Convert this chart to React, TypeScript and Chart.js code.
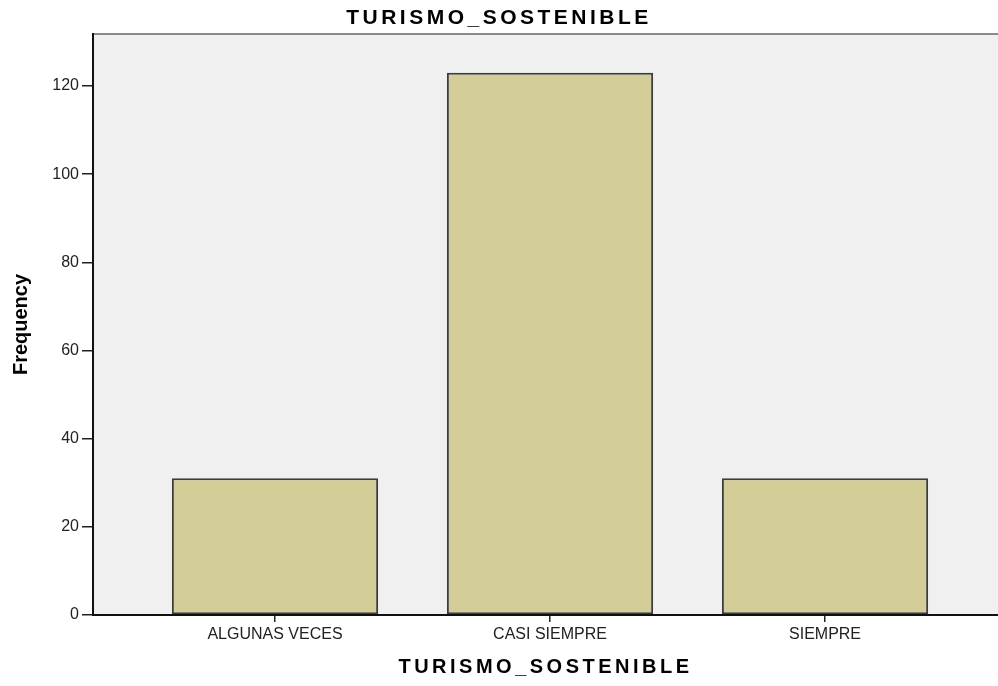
import React, { useEffect, useRef } from 'react';
import { Chart, registerables } from 'chart.js';

Chart.register(...registerables);

const categories: string[] = ['ALGUNAS VECES', 'CASI SIEMPRE', 'SIEMPRE'];
const frequencies: number[] = [31, 123, 31];
const yTickValues: number[] = [0, 20, 40, 60, 80, 100, 120];
const chartTitle = 'TURISMO_SOSTENIBLE';
const xAxisTitle = 'TURISMO_SOSTENIBLE';
const yAxisTitle = 'Frequency';

const FONT = 'Liberation Sans, Arial, sans-serif';

const framePlugin = {
  id: 'spssFrame',
  beforeDraw(chart: any) {
    const { ctx, chartArea: a } = chart;
    ctx.save();
    ctx.fillStyle = '#f0f0f0';
    ctx.fillRect(a.left, a.top, a.right - a.left, a.bottom - a.top);
    ctx.strokeStyle = '#8a8a8a';
    ctx.lineWidth = 2;
    ctx.beginPath();
    ctx.moveTo(a.left, a.top);
    ctx.lineTo(a.right, a.top);
    ctx.stroke();
    ctx.restore();
    // wide bold titles (main + x title) drawn in the layers before datasets
    ctx.letterSpacing = '3.5px';
  },
  beforeDatasetsDraw(chart: any) {
    chart.ctx.letterSpacing = '0px';
  },
  afterDraw(chart: any) {
    chart.ctx.letterSpacing = '0px';
  },
};

export default function App() {
  const canvasRef = useRef<HTMLCanvasElement | null>(null);

  useEffect(() => {
    const canvas = canvasRef.current;
    if (!canvas) return;
    const chart = new Chart(canvas, {
      type: 'bar',
      data: {
        datasets: [
          {
            data: categories.map((_, i) => ({ x: i, y: frequencies[i] })) as any,
            backgroundColor: '#d3ce98',
            borderColor: '#3c3c3c',
            borderWidth: 2,
            borderSkipped: false,
            barPercentage: 0.75,
            categoryPercentage: 1,
          },
        ],
      },
      options: {
        responsive: false,
        animation: false,
        layout: { padding: 0 },
        plugins: {
          legend: { display: false },
          tooltip: { enabled: false },
          title: {
            display: true,
            text: chartTitle,
            color: '#000',
            font: { family: FONT, size: 21, weight: 'bold' },
            padding: { top: 6, bottom: 2.8 },
          },
        },
        scales: {
          x: {
            type: 'linear',
            offset: false,
            min: -0.6618,
            max: 2.629,
            afterBuildTicks: (s: any) => {
              s.ticks = categories.map((_, i) => ({ value: i }));
            },
            afterFit: (s: any) => {
              s.height = 71;
            },
            ticks: {
              callback: (v: any) => categories[v as number] ?? '',
              color: '#222',
              font: { family: FONT, size: 16 },
              padding: 3,
              maxRotation: 0,
              autoSkip: false,
              z: 1,
            },
            grid: {
              offset: false,
              drawOnChartArea: false,
              drawTicks: true,
              tickLength: 7,
              color: '#222',
              lineWidth: 1.5,
            },
            border: { display: true, color: '#111', width: 2 },
            title: {
              display: true,
              text: xAxisTitle,
              color: '#000',
              font: { family: FONT, size: 20, weight: 'bold' },
              padding: { top: 0, bottom: 6.4 },
            },
          },
          y: {
            min: 0,
            max: 131.8,
            afterBuildTicks: (s: any) => {
              s.ticks = yTickValues.map((v) => ({ value: v }));
            },
            afterFit: (s: any) => {
              s.width = 93;
            },
            ticks: {
              color: '#222',
              font: { family: FONT, size: 16 },
              padding: 3,
              z: 1,
            },
            grid: {
              drawOnChartArea: false,
              drawTicks: true,
              tickLength: 11,
              color: '#222',
              lineWidth: 1.5,
              z: 1,
            },
            border: { display: true, color: '#111', width: 2, z: 1 },
            title: {
              display: true,
              text: yAxisTitle,
              color: '#000',
              font: { family: FONT, size: 20, weight: 'bold' },
              padding: { top: 9, bottom: 0 },
            },
          },
        },
      } as any,
      plugins: [framePlugin],
    });
    return () => chart.destroy();
  }, []);

  return (
    <div style={{ position: 'absolute', left: 0, top: 0, width: 998, height: 686, background: '#fff' }}>
      <canvas ref={canvasRef} width={998} height={686} style={{ display: 'block' }} />
    </div>
  );
}
